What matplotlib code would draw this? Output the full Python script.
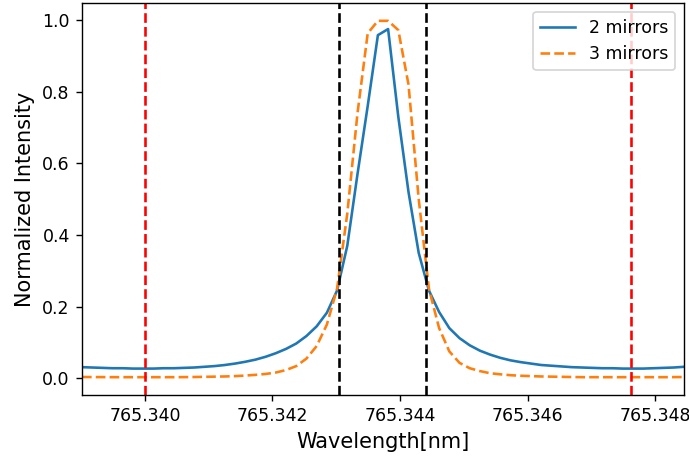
import numpy as np
import matplotlib
matplotlib.use("Agg")
import matplotlib.pyplot as plt

# sampled wavelengths [nm], 60 points
wavelength = np.linspace(765.339014, 765.348454, 60)

# normalized transmission
two_mirrors = [
    0.031, 0.030, 0.029, 0.028, 0.028, 0.027, 0.027, 0.027, 0.028, 0.028,
    0.029, 0.030, 0.032, 0.034, 0.037, 0.041, 0.046, 0.052, 0.060, 0.070,
    0.082, 0.097, 0.118, 0.145, 0.183, 0.245, 0.370, 0.570, 0.760, 0.958,
    0.975, 0.730, 0.520, 0.350, 0.245, 0.185, 0.140, 0.112, 0.092, 0.077,
    0.066, 0.057, 0.050, 0.045, 0.041, 0.037, 0.035, 0.033, 0.031, 0.030,
    0.029, 0.028, 0.028, 0.027, 0.027, 0.027, 0.028, 0.029, 0.030, 0.032,
]
three_mirrors = [
    0.0035, 0.0033, 0.0032, 0.003, 0.003, 0.003, 0.003, 0.003, 0.003, 0.003,
    0.0032, 0.0035, 0.004, 0.0045, 0.005, 0.006, 0.0075, 0.0095, 0.012, 0.016,
    0.023, 0.034, 0.055, 0.090, 0.150, 0.250, 0.460, 0.740, 0.963, 0.998,
    0.998, 0.972, 0.820, 0.500, 0.250, 0.140, 0.075, 0.043, 0.028, 0.020,
    0.014, 0.011, 0.0085, 0.007, 0.006, 0.005, 0.0045, 0.004, 0.0035, 0.003,
    0.003, 0.003, 0.003, 0.003, 0.003, 0.003, 0.003, 0.003, 0.0032, 0.0034,
]

# marker lines
red_lines = [765.340, 765.34762]
black_lines = [765.34305, 765.34441]

fig = plt.figure(figsize=(689 / 125, 458 / 125), dpi=125)
ax = fig.add_axes([82 / 689, 1 - 395 / 458, (684 - 82) / 689, (395 - 3) / 458])

ax.plot(wavelength, two_mirrors, label='2 mirrors')
ax.plot(wavelength, three_mirrors, '--', label='3 mirrors')
for w in red_lines:
    ax.axvline(w, color='r', linestyle='--')
for w in black_lines:
    ax.axvline(w, color='k', linestyle='--')

ax.set_xlim(wavelength[0], wavelength[-1])
ax.set_xticks([765.340, 765.342, 765.344, 765.346, 765.348])
ax.ticklabel_format(axis='x', useOffset=False)
ax.set_xlabel('Wavelength[nm]', fontsize=12)
ax.set_ylabel('Normalized Intensity', fontsize=12)
ax.legend(loc='upper right')

fig.savefig('out.png', dpi=125)
